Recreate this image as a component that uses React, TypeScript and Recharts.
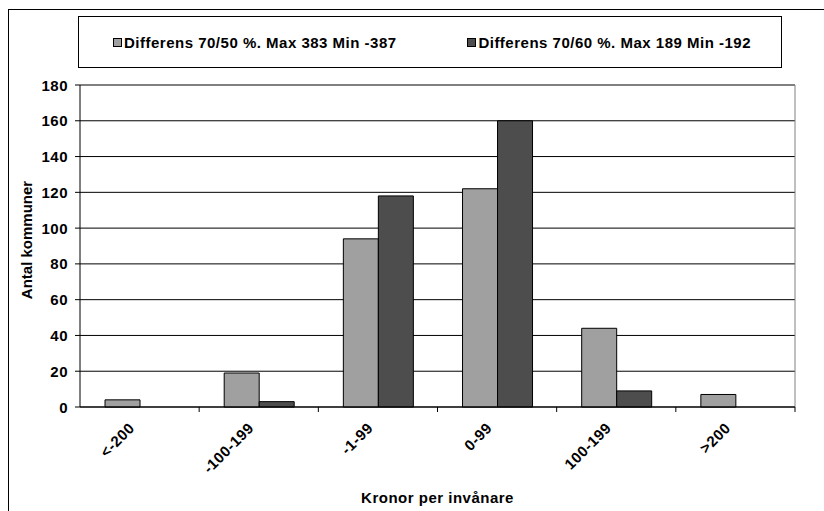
import { Bar, BarChart, CartesianGrid, XAxis, YAxis } from 'recharts'

const categories = ['<-200', '-100-199', '-1-99', '0-99', '100-199', '>200']
const diff7050 = [4, 19, 94, 122, 44, 7]
const diff7060 = [0, 3, 118, 160, 9, 0]
const yTicks = [0, 20, 40, 60, 80, 100, 120, 140, 160, 180]

const seriesList = [
  { key: 'd7050', name: 'Differens 70/50 %. Max 383 Min -387', color: '#a0a0a0' },
  { key: 'd7060', name: 'Differens 70/60 %. Max 189 Min -192', color: '#4d4d4d' },
]

const yTitle = 'Antal kommuner'
const xTitle = 'Kronor per invånare'

const FONT = '"Liberation Sans", Arial, sans-serif'
const TEXT_STYLE = { fontFamily: FONT, fontWeight: 700, fontSize: 15, letterSpacing: 0.5 }

const chartData = categories.map((name, i) => ({
  name,
  d7050: diff7050[i],
  d7060: diff7060[i],
}))

// label rotated like Excel, plus the tick mark on the right edge of each band
function CategoryTick({ x, y, payload, width, visibleTicksCount }: any) {
  const half =
    payload && payload.offset ? payload.offset : width / (visibleTicksCount || 1) / 2
  const bx = x + half
  const lx = x - 4
  const ly = y + 22
  return (
    <g>
      <line x1={bx} y1={y} x2={bx} y2={y + 5} stroke="#000" strokeWidth={1} />
      <text
        x={lx}
        y={ly}
        textAnchor="end"
        fill="#000"
        style={TEXT_STYLE}
        transform={`rotate(-45, ${lx}, ${ly})`}
      >
        {payload.value}
      </text>
    </g>
  )
}

function ValueTick({ x, y, payload }: any) {
  return (
    <text x={x} y={y} textAnchor="end" dominantBaseline="central" fill="#000" style={TEXT_STYLE}>
      {payload.value}
    </text>
  )
}

export default function App() {
  return (
    <div
      style={{
        position: 'absolute',
        left: 0,
        top: 0,
        width: 824,
        height: 511,
        background: '#fff',
        overflow: 'hidden',
      }}
    >
      <div
        style={{
          position: 'absolute',
          left: 8,
          top: 9,
          width: 830,
          height: 520,
          border: '1.5px solid #000',
        }}
      />
      <div
        style={{
          position: 'absolute',
          left: 78,
          top: 16,
          width: 704,
          height: 52,
          border: '1px solid #000',
          display: 'flex',
          alignItems: 'center',
          justifyContent: 'space-between',
          padding: '0 30px 0 34px',
          boxSizing: 'border-box',
        }}
      >
        {seriesList.map((s) => (
          <div key={s.key} style={{ display: 'flex', alignItems: 'center' }}>
            <span
              style={{
                display: 'inline-block',
                width: 7,
                height: 7,
                background: s.color,
                border: '1px solid #000',
                marginRight: 2,
              }}
            />
            <span style={{ ...TEXT_STYLE, color: '#000', whiteSpace: 'nowrap' }}>{s.name}</span>
          </div>
        ))}
      </div>
      <BarChart
        width={824}
        height={511}
        data={chartData}
        margin={{ top: 85, right: 29, bottom: 14, left: 0 }}
        barCategoryGap="21%"
        barGap={0}
        style={{ position: 'absolute', left: 0, top: 0 }}
      >
        <CartesianGrid vertical={false} stroke="#000" strokeWidth={1} />
        <CartesianGrid
          horizontal={false}
          stroke="#808080"
          verticalCoordinatesGenerator={({ offset }: any) => [offset.left + offset.width]}
        />
        <XAxis
          dataKey="name"
          height={90}
          axisLine={{ stroke: '#000' }}
          tickLine={false}
          tickSize={0}
          tickMargin={0}
          interval={0}
          tick={<CategoryTick />}
          label={{
            content: ({ viewBox }: any) => (
              <text
                x={viewBox.x + viewBox.width / 2}
                y={503}
                textAnchor="middle"
                fill="#000"
                style={TEXT_STYLE}
              >
                {xTitle}
              </text>
            ),
          }}
        />
        <YAxis
          width={80}
          domain={[0, 180]}
          ticks={yTicks}
          interval={0}
          axisLine={{ stroke: '#000' }}
          tickLine={{ stroke: '#000' }}
          tickSize={5}
          tickMargin={7}
          tick={<ValueTick />}
          label={{
            content: ({ viewBox }: any) => {
              const cx = 32
              const cy = viewBox.y + viewBox.height / 2 - 6
              return (
                <text
                  x={cx}
                  y={cy}
                  textAnchor="middle"
                  fill="#000"
                  style={{ ...TEXT_STYLE, letterSpacing: 0 }}
                  transform={`rotate(-90, ${cx}, ${cy})`}
                >
                  {yTitle}
                </text>
              )
            },
          }}
        />
        {seriesList.map((s) => (
          <Bar
            key={s.key}
            dataKey={s.key}
            name={s.name}
            fill={s.color}
            stroke="#000"
            strokeWidth={1}
            isAnimationActive={false}
          />
        ))}
      </BarChart>
    </div>
  )
}
